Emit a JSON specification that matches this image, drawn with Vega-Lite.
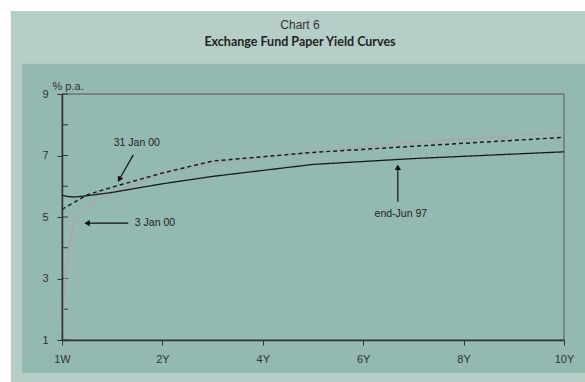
{
  "$schema": "https://vega.github.io/schema/vega-lite/v6.json",
  "width": 502,
  "height": 246,
  "autosize": {"type": "none"},
  "padding": {"left": 62, "top": 94, "right": 21, "bottom": 42},
  "background": "white",
  "title": {
    "text": "Chart 6",
    "subtitle": "Exchange Fund Paper Yield Curves",
    "font": "Liberation Sans",
    "fontSize": 12,
    "fontWeight": "normal",
    "color": "#333333",
    "subtitleFont": "Lato",
    "subtitleFontSize": 12.5,
    "subtitleFontWeight": "bold",
    "subtitleColor": "#222222",
    "subtitlePadding": 4,
    "anchor": "middle",
    "dx": -13,
    "offset": -39
  },
  "config": {
    "view": {"stroke": null},
    "axis": {
      "grid": false,
      "domainColor": "#333333",
      "domainWidth": 1.5,
      "tickColor": "#333333",
      "tickSize": 5,
      "labelFont": "Liberation Sans",
      "labelFontSize": 11,
      "labelColor": "#333333",
      "labelOverlap": false,
      "labelFlush": false
    }
  },
  "datasets": {
    "curves": [
      {"series": "3 Jan 00", "t": 0, "y": 1.25},
      {"series": "3 Jan 00", "t": 0.083, "y": 3.45},
      {"series": "3 Jan 00", "t": 0.25, "y": 4.9},
      {"series": "3 Jan 00", "t": 0.5, "y": 5.35},
      {"series": "3 Jan 00", "t": 1, "y": 5.8},
      {"series": "3 Jan 00", "t": 2, "y": 6.4},
      {"series": "3 Jan 00", "t": 3, "y": 6.74},
      {"series": "3 Jan 00", "t": 5, "y": 7.12},
      {"series": "3 Jan 00", "t": 7, "y": 7.43},
      {"series": "3 Jan 00", "t": 10, "y": 7.74},
      {"series": "31 Jan 00", "t": 0, "y": 5.25},
      {"series": "31 Jan 00", "t": 0.083, "y": 5.33},
      {"series": "31 Jan 00", "t": 0.25, "y": 5.48},
      {"series": "31 Jan 00", "t": 0.5, "y": 5.72},
      {"series": "31 Jan 00", "t": 1, "y": 5.97},
      {"series": "31 Jan 00", "t": 2, "y": 6.43},
      {"series": "31 Jan 00", "t": 3, "y": 6.82},
      {"series": "31 Jan 00", "t": 5, "y": 7.1},
      {"series": "31 Jan 00", "t": 7, "y": 7.3},
      {"series": "31 Jan 00", "t": 10, "y": 7.59},
      {"series": "end-Jun 97", "t": 0, "y": 5.72},
      {"series": "end-Jun 97", "t": 0.083, "y": 5.67},
      {"series": "end-Jun 97", "t": 0.25, "y": 5.65},
      {"series": "end-Jun 97", "t": 0.5, "y": 5.69},
      {"series": "end-Jun 97", "t": 1, "y": 5.8},
      {"series": "end-Jun 97", "t": 2, "y": 6.08},
      {"series": "end-Jun 97", "t": 3, "y": 6.32},
      {"series": "end-Jun 97", "t": 5, "y": 6.71},
      {"series": "end-Jun 97", "t": 7, "y": 6.9},
      {"series": "end-Jun 97", "t": 10, "y": 7.12}
    ],
    "yticks": [{"v": 1}, {"v": 2}, {"v": 3}, {"v": 4}, {"v": 5}, {"v": 6}, {"v": 7}, {"v": 8}, {"v": 9}],
    "arrows": [
      {"label": "31 Jan 00", "x": 1.42, "y": 7.02, "x2": 1.14, "y2": 6.22},
      {"label": "3 Jan 00", "x": 1.32, "y": 4.8, "x2": 0.5, "y2": 4.8},
      {"label": "end-Jun 97", "x": 6.69, "y": 5.5, "x2": 6.69, "y2": 6.62}
    ]
  },
  "layer": [
    {
      "data": {"values": [{}]},
      "mark": {"type": "rect", "fill": "#b5cfc8", "clip": false},
      "encoding": {
        "x": {
          "datum": -1.02,
          "type": "quantitative",
          "scale": {"domain": [0, 10], "nice": false, "zero": false},
          "axis": {
            "zindex": 1,
            "values": [0, 1, 2, 3, 4, 5, 6, 7, 8, 9, 10],
            "tickCount": 10,
            "labelExpr": "datum.value == 0 ? '1W' : datum.value + 'Y'",
            "title": null,
            "labelPadding": 8,
            "labelOverlap": false
          }
        },
        "x2": {"datum": 10.6},
        "y": {
          "datum": -0.45,
          "type": "quantitative",
          "scale": {"domain": [1, 9], "nice": false, "zero": false},
          "axis": {
            "zindex": 1,
            "values": [1, 2, 3, 4, 5, 6, 7, 8, 9],
            "tickCount": 8,
            "labelOverlap": false,
            "labelBound": false,
            "title": "% p.a.",
            "titleAngle": 0,
            "titleAlign": "left",
            "titleBaseline": "alphabetic",
            "titleX": -10,
            "titleY": -5,
            "titleFont": "Liberation Sans",
            "titleFontSize": 11,
            "titleFontWeight": "normal",
            "titleColor": "#333333",
            "labelPadding": 9
          }
        },
        "y2": {"datum": 11.7}
      }
    },
    {
      "data": {"values": [{}]},
      "mark": {"type": "rect", "fill": "#94b9b0", "clip": false},
      "encoding": {
        "x": {"datum": -0.797, "type": "quantitative"},
        "x2": {"datum": 10.6},
        "y": {"datum": -0.073, "type": "quantitative"},
        "y2": {"datum": 9.98}
      }
    },
    {
      "data": {"values": [{}]},
      "mark": {"type": "rect", "fill": null, "stroke": "#555555", "strokeWidth": 1},
      "encoding": {
        "x": {"datum": 0, "type": "quantitative"},
        "x2": {"datum": 10},
        "y": {"datum": 1, "type": "quantitative"},
        "y2": {"datum": 9}
      }
    },
    {
      "data": {"name": "yticks"},
      "mark": {"type": "rule", "color": "#333333", "strokeWidth": 1},
      "encoding": {
        "x": {"datum": 0, "type": "quantitative"},
        "x2": {"datum": 0.12},
        "y": {"field": "v", "type": "quantitative"}
      }
    },
    {
      "data": {"name": "curves"},
      "mark": {"type": "line", "clip": false},
      "encoding": {
        "x": {"field": "t", "type": "quantitative"},
        "y": {"field": "y", "type": "quantitative"},
        "color": {
          "field": "series",
          "type": "nominal",
          "scale": {"domain": ["3 Jan 00", "31 Jan 00", "end-Jun 97"], "range": ["#a8a8a8", "#1a1a1a", "#1a1a1a"]},
          "legend": null
        },
        "strokeDash": {
          "field": "series",
          "type": "nominal",
          "scale": {"domain": ["3 Jan 00", "31 Jan 00", "end-Jun 97"], "range": [[1, 0], [4, 3], [1, 0]]},
          "legend": null
        },
        "strokeWidth": {
          "field": "series",
          "type": "nominal",
          "scale": {"domain": ["3 Jan 00", "31 Jan 00", "end-Jun 97"], "range": [1.6, 1.3, 2.3]},
          "legend": null
        }
      }
    },
    {
      "data": {"name": "arrows"},
      "mark": {"type": "rule", "color": "#111111", "strokeWidth": 1.2},
      "encoding": {
        "x": {"field": "x", "type": "quantitative"},
        "x2": {"field": "x2"},
        "y": {"field": "y", "type": "quantitative"},
        "y2": {"field": "y2"}
      }
    },
    {
      "data": {"name": "arrows"},
      "transform": [{"filter": "datum.label == '31 Jan 00'"}],
      "mark": {"type": "point", "shape": "triangle-up", "filled": true, "color": "#111111", "size": 40, "angle": 209, "opacity": 1},
      "encoding": {
        "x": {"field": "x2", "type": "quantitative"},
        "y": {"field": "y2", "type": "quantitative"}
      }
    },
    {
      "data": {"name": "arrows"},
      "transform": [{"filter": "datum.label == '3 Jan 00'"}],
      "mark": {"type": "point", "shape": "triangle-up", "filled": true, "color": "#111111", "size": 40, "angle": 270, "opacity": 1},
      "encoding": {
        "x": {"field": "x2", "type": "quantitative"},
        "y": {"field": "y2", "type": "quantitative"}
      }
    },
    {
      "data": {"name": "arrows"},
      "transform": [{"filter": "datum.label == 'end-Jun 97'"}],
      "mark": {"type": "point", "shape": "triangle-up", "filled": true, "color": "#111111", "size": 40, "angle": 0, "opacity": 1},
      "encoding": {
        "x": {"field": "x2", "type": "quantitative"},
        "y": {"field": "y2", "type": "quantitative"}
      }
    },
    {
      "data": {"values": [
        {"label": "31 Jan 00", "x": 1.49, "y": 7.4},
        {"label": "end-Jun 97", "x": 6.75, "y": 5.1}
      ]},
      "mark": {"type": "text", "font": "Liberation Sans", "fontSize": 10.5, "color": "#222222", "align": "center", "baseline": "middle"},
      "encoding": {
        "x": {"field": "x", "type": "quantitative"},
        "y": {"field": "y", "type": "quantitative"},
        "text": {"field": "label"}
      }
    },
    {
      "data": {"values": [{"label": "3 Jan 00", "x": 1.45, "y": 4.8}]},
      "mark": {"type": "text", "font": "Liberation Sans", "fontSize": 10.5, "color": "#222222", "align": "left", "baseline": "middle"},
      "encoding": {
        "x": {"field": "x", "type": "quantitative"},
        "y": {"field": "y", "type": "quantitative"},
        "text": {"field": "label"}
      }
    }
  ]
}
